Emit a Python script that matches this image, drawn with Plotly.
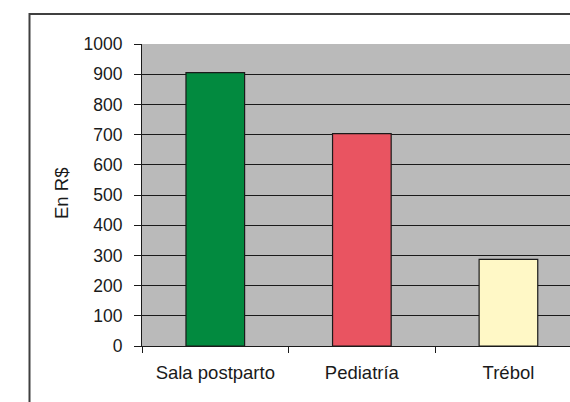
import plotly.graph_objects as go

# Gasto por área, en reales
categorias = ["Sala postparto", "Pediatría", "Trébol"]
valores = [905, 703, 287]
colores = ["#028A3F", "#E95461", "#FFF8C6"]
y_ticks = list(range(0, 1001, 100))

fig = go.Figure(
    go.Bar(
        x=categorias,
        y=valores,
        marker=dict(color=colores, line=dict(color="#1a1a1a", width=1.2)),
        width=0.4,
        hoverinfo="x+y",
    )
)

familia = "Liberation Sans, Arial, sans-serif"
fuente_cat = dict(family=familia, size=18.5, color="#1a1a1a")
fuente_y = dict(family=familia, size=17.5, color="#1a1a1a")

fig.update_layout(
    width=570,
    height=402,
    margin=dict(l=142, r=0, t=44, b=56),
    paper_bgcolor="white",
    plot_bgcolor="#BABABA",
    showlegend=False,
    font=fuente_y,
    xaxis=dict(
        range=[-0.5, 2.42],
        showgrid=False,
        showline=True,
        linecolor="#1a1a1a",
        linewidth=1,
        ticks="outside",
        tickson="boundaries",
        ticklen=6,
        tickcolor="#1a1a1a",
        tickfont=fuente_cat,
        ticklabelstandoff=10,
        fixedrange=True,
    ),
    yaxis=dict(
        range=[0, 1000],
        tickvals=y_ticks,
        showgrid=True,
        gridcolor="#1a1a1a",
        gridwidth=1,
        zeroline=False,
        showline=True,
        linecolor="#1a1a1a",
        linewidth=1,
        ticks="outside",
        ticklen=7,
        tickcolor="#1a1a1a",
        tickfont=fuente_y,
        ticklabelstandoff=8,
        fixedrange=True,
    ),
    annotations=[
        dict(
            text="En R$",
            xref="paper",
            yref="paper",
            x=(61 - 142) / 428,
            y=(346 - 194) / 302,
            showarrow=False,
            textangle=-90,
            font=fuente_cat,
            xanchor="center",
            yanchor="middle",
        )
    ],
    shapes=[
        # marco exterior del gráfico
        dict(
            type="rect",
            xref="paper",
            yref="paper",
            x0=(29.5 - 142) / 428,
            x1=1.1,
            y0=-0.3,
            y1=(346 - 14) / 302,
            line=dict(color="#404040", width=2),
            fillcolor="rgba(0,0,0,0)",
            layer="below",
        )
    ],
)

fig.write_html("out.html")
